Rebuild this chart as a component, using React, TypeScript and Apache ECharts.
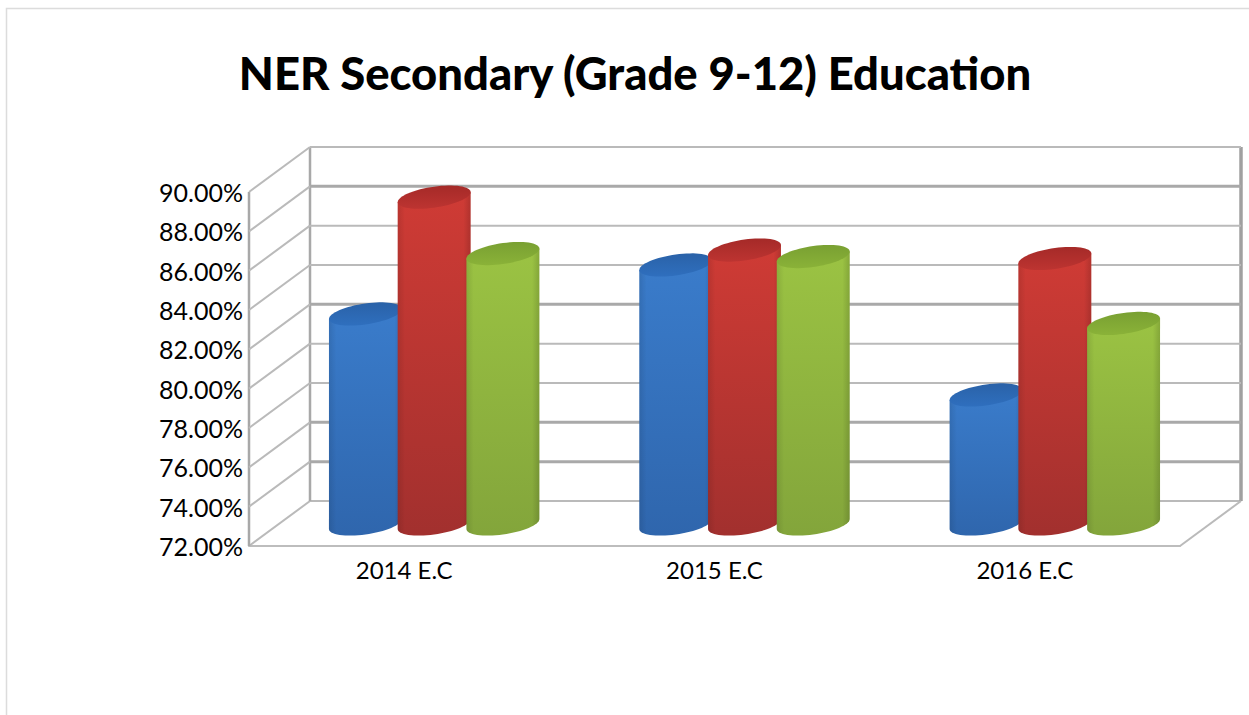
import React, { useEffect, useRef } from "react";
import * as echarts from "echarts";

const titleText = "NER Secondary (Grade 9-12) Education";
const categories = ["2014 E.C", "2015 E.C", "2016 E.C"];
const yTicks = [72, 74, 76, 78, 80, 82, 84, 86, 88, 90];
const heavyTicks = [74, 76, 82, 88];
const seriesA = [82.68, 85.17, 78.56];
const seriesB = [88.62, 85.93, 85.5];
const seriesC = [85.75, 85.6, 82.2];

const paints = [
  { top: "#3a7ccb", bottom: "#2f66ad", capA: "#2a62a8", capB: "#2f6fbe" },
  { top: "#cf3b35", bottom: "#a2302e", capA: "#a52a28", capB: "#bd3431" },
  { top: "#9bc343", bottom: "#83a53b", capA: "#79a032", capB: "#8ab238" },
];

const DEPTH_X = 61;
const DEPTH_Y = 45;
const MID_X = 30;
const MID_Y = 22;

function wallItem(params: any, api: any) {
  const v = api.value(1);
  const cs = params.coordSys;
  const y = api.coord([0, v])[1];
  const left = cs.x;
  const right = cs.x + cs.width;
  const stroke = "#bababa";
  const heavy = heavyTicks.indexOf(v) >= 0;
  const children: any[] = [
    {
      type: "line",
      shape: { x1: left, y1: y, x2: left + DEPTH_X, y2: y - DEPTH_Y },
      style: { stroke, lineWidth: 2 },
    },
    {
      type: "line",
      shape: { x1: left + DEPTH_X, y1: y - DEPTH_Y, x2: right + DEPTH_X, y2: y - DEPTH_Y },
      style: { stroke: heavy ? "#a9a9a9" : stroke, lineWidth: heavy ? 3 : 2 },
    },
  ];
  if (v === yTicks[0]) {
    const top = api.coord([0, yTicks[yTicks.length - 1]])[1];
    children.push(
      { type: "line", shape: { x1: left, y1: top, x2: left, y2: y }, style: { stroke: "#a8a8a8", lineWidth: 2.5 } },
      { type: "line", shape: { x1: left + DEPTH_X, y1: top - DEPTH_Y, x2: left + DEPTH_X, y2: y - DEPTH_Y }, style: { stroke: "#a8a8a8", lineWidth: 2.5 } },
      { type: "line", shape: { x1: right + DEPTH_X, y1: top - DEPTH_Y, x2: right + DEPTH_X, y2: y - DEPTH_Y }, style: { stroke: "#a0a0a0", lineWidth: 3.5 } },
      { type: "line", shape: { x1: right, y1: y, x2: right + DEPTH_X, y2: y - DEPTH_Y }, style: { stroke, lineWidth: 2 } },
    );
  }
  return { type: "group", children };
}

function cylinderItem(seriesPos: number) {
  return (_params: any, api: any) => {
    const idx = api.value(0);
    const val = api.value(1);
    const band = api.size([1, 0])[0];
    const halfW = band * 0.1175;
    const step = band * 0.2215;
    const [fx, fy] = api.coord([idx, val]);
    const baseY = api.coord([idx, yTicks[0]])[1] - MID_Y;
    const cx = fx + MID_X + (seriesPos - 1) * step;
    const cy = fy - MID_Y;
    const k = 5;
    const b = 10.5;
    const pt = (t: number, y0: number) => [
      cx + halfW * Math.cos(t),
      y0 - k * Math.cos(t) + b * Math.sin(t),
    ];
    const capPts: number[][] = [];
    for (let i = 0; i < 64; i++) capPts.push(pt((i / 64) * 2 * Math.PI, cy));
    const bodyPts: number[][] = [pt(Math.PI, cy)];
    for (let i = 0; i <= 32; i++) bodyPts.push(pt(Math.PI - (i / 32) * Math.PI, baseY));
    bodyPts.push(pt(0, cy));
    const p = paints[seriesPos];
    return {
      type: "group",
      children: [
        {
          type: "polygon",
          shape: { points: bodyPts },
          style: {
            fill: new echarts.graphic.LinearGradient(0, 0, 0, 1, [
              { offset: 0, color: p.top },
              { offset: 1, color: p.bottom },
            ]),
          },
        },
        {
          type: "polygon",
          shape: { points: bodyPts },
          style: {
            fill: new echarts.graphic.LinearGradient(0, 0, 1, 0, [
              { offset: 0, color: "rgba(0,0,0,0.1)" },
              { offset: 0.1, color: "rgba(0,0,0,0)" },
              { offset: 0.9, color: "rgba(0,0,0,0)" },
              { offset: 1, color: "rgba(0,0,0,0.14)" },
            ]),
          },
        },
        {
          type: "polygon",
          shape: { points: capPts },
          style: {
            fill: new echarts.graphic.LinearGradient(0, 0, 0, 1, [
              { offset: 0, color: p.capA },
              { offset: 1, color: p.capB },
            ]),
          },
        },
      ],
    };
  };
}

export default function App() {
  const ref = useRef<HTMLDivElement>(null);
  useEffect(() => {
    const chart = echarts.init(ref.current!, undefined, { renderer: "svg" });
    const toData = (arr: number[]) => arr.map((v, i) => [i, v]);
    chart.setOption({
      animation: false,
      backgroundColor: "#ffffff",
      textStyle: { fontFamily: "Lato" },
      title: {
        text: titleText,
        left: 630,
        top: 45,
        textAlign: "center",
        textStyle: { fontFamily: "Lato", fontWeight: 900, fontSize: 45.4, color: "#000" },
      },
      graphic: [
        {
          type: "polyline",
          shape: { points: [[6.5, 715], [6.5, 8.5], [1249, 8.5]] },
          style: { stroke: "#dcdcdc", lineWidth: 1.5, fill: "none" },
          silent: true,
        },
      ],
      grid: { left: 249, right: 69, top: 192, bottom: 169 },
      xAxis: {
        type: "category",
        data: categories,
        axisTick: { show: false },
        axisLine: { show: true, lineStyle: { color: "#bdbdbd", width: 2.2 } },
        axisLabel: { fontFamily: "Lato", fontSize: 24, color: "#000", margin: 11 },
      },
      yAxis: {
        type: "value",
        min: 72,
        max: 90,
        interval: 2,
        axisTick: { show: false },
        axisLine: { show: false },
        splitLine: { show: false },
        axisLabel: {
          fontFamily: "Lato",
          fontSize: 25,
          color: "#000",
          margin: 6,
          formatter: (v: number) => v.toFixed(2) + "%",
        },
      },
      series: [
        {
          type: "custom",
          name: "Walls",
          data: yTicks.map((v) => [0, v]),
          renderItem: wallItem,
          silent: true,
        },
        { type: "custom", name: "Series 1", data: toData(seriesA), renderItem: cylinderItem(0) },
        { type: "custom", name: "Series 2", data: toData(seriesB), renderItem: cylinderItem(1) },
        { type: "custom", name: "Series 3", data: toData(seriesC), renderItem: cylinderItem(2) },
      ],
    });
    return () => chart.dispose();
  }, []);
  return (
    <div
      ref={ref}
      style={{ position: "absolute", left: 0, top: 0, width: 1249, height: 715 }}
    />
  );
}
